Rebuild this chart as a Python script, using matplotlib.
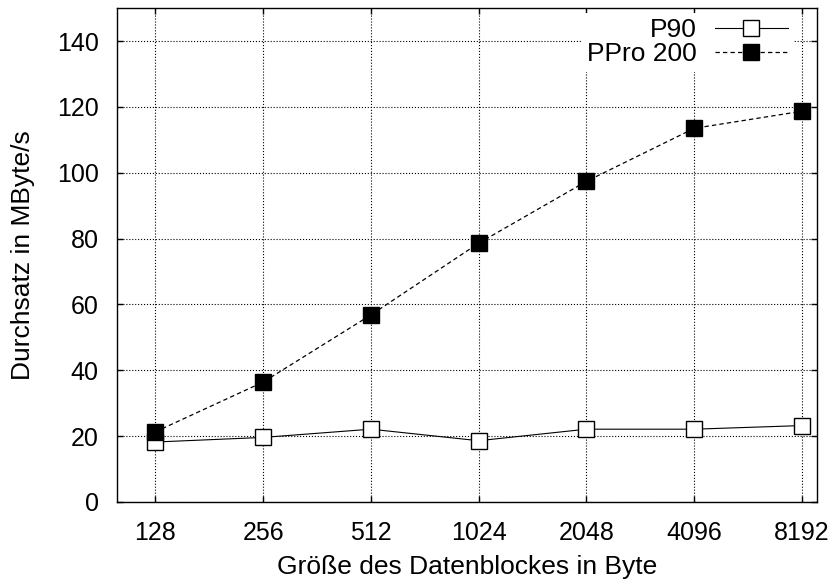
import numpy as np
import matplotlib.pyplot as plt
from matplotlib.ticker import FixedLocator, NullLocator, FixedFormatter

plt.rcParams['font.family'] = ['Liberation Sans', 'DejaVu Sans']

# Messdaten
block_sizes = [128, 256, 512, 1024, 2048, 4096, 8192]
p90 = [18.2, 19.6, 22.1, 18.6, 22.1, 22.1, 23.2]
ppro200 = [21.3, 36.4, 56.8, 78.6, 97.4, 113.5, 118.7]
y_ticks = [0, 20, 40, 60, 80, 100, 120, 140]

fig = plt.figure(figsize=(8.35, 5.85), dpi=100)
ax = fig.add_axes([0.140, 0.142, 0.838, 0.844])

ax.plot(block_sizes, p90, '-', color='black', linewidth=0.8,
        marker='s', markersize=11, markerfacecolor='white',
        markeredgecolor='black', markeredgewidth=1.0, label='P90')
ax.plot(block_sizes, ppro200, '--', color='black', linewidth=0.9,
        dashes=(3.5, 2.5), marker='s', markersize=11, markerfacecolor='black',
        markeredgecolor='black', label='PPro 200')

ax.set_xscale('log', base=2)
ax.set_xlim(100, 9000)
ax.set_ylim(0, 150)
ax.xaxis.set_major_locator(FixedLocator(block_sizes))
ax.xaxis.set_major_formatter(FixedFormatter([str(b) for b in block_sizes]))
ax.xaxis.set_minor_locator(NullLocator())
ax.set_yticks(y_ticks)

ax.grid(True, linestyle=':', color='black', linewidth=0.8)
ax.tick_params(direction='in', length=4.5, width=1, top=True, right=True,
               labelsize=18)
ax.tick_params(axis='x', pad=14)
ax.tick_params(axis='y', pad=13)
for s in ax.spines.values():
    s.set_linewidth(1.0)
    s.set_zorder(3)

xl = ax.set_xlabel('Größe des Datenblockes in Byte', fontsize=19)
ax.xaxis.set_label_coords(0.5, -0.132)
xl.set_va('center')
yl = ax.set_ylabel('Durchsatz in MByte/s', fontsize=19)
ax.yaxis.set_label_coords(-0.134, 0.5)
yl.set_va('center')

leg = ax.legend(loc='upper right', bbox_to_anchor=(0.966, 0.99),
                markerfirst=False, fontsize=19, handlelength=2.75,
                frameon=True, fancybox=False, borderaxespad=0,
                labelspacing=0.0, handletextpad=0.7, borderpad=0.2)
leg.set_zorder(2)
leg.get_frame().set_facecolor('white')
leg.get_frame().set_edgecolor('none')
leg.get_frame().set_alpha(1)
for t in leg.get_texts():
    t.set_ha('right')

plt.savefig('out.png', dpi=100)
